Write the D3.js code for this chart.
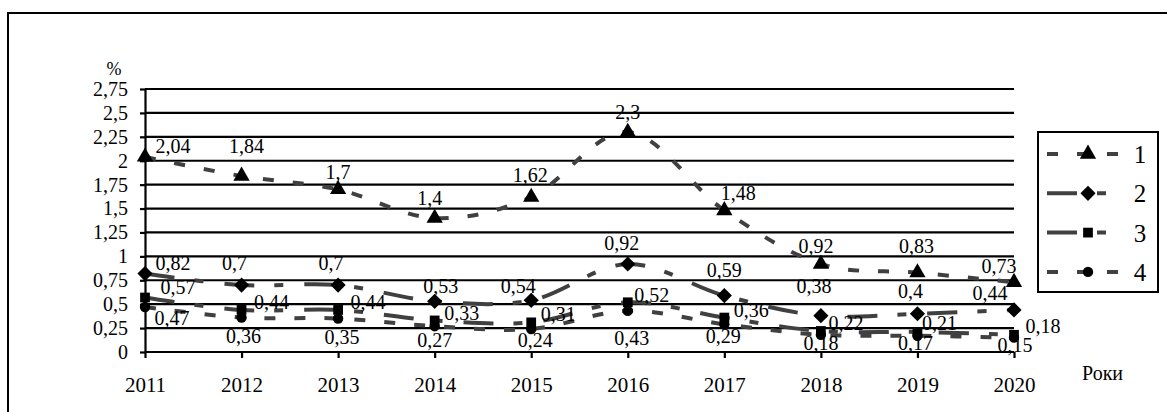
<!DOCTYPE html>
<html>
<head>
<meta charset="utf-8">
<script src="https://cdn.jsdelivr.net/npm/d3@7"></script>
<style>
  html, body { margin: 0; padding: 0; background: #fff; overflow: hidden; }
  svg { display: block; }
  text { font-family: "Liberation Serif", "Times New Roman", serif; fill: #000; }
</style>
</head>
<body>
<svg class="chart"></svg>
<script>
const svgWidth = 1167;
const svgHeight = 412;

// data
const years = [2011, 2012, 2013, 2014, 2015, 2016, 2017, 2018, 2019, 2020];
const series1 = [2.04, 1.84, 1.7, 1.4, 1.62, 2.3, 1.48, 0.92, 0.83, 0.73];
const series2 = [0.82, 0.7, 0.7, 0.53, 0.54, 0.92, 0.59, 0.38, 0.4, 0.44];
const series3 = [0.57, 0.44, 0.44, 0.33, 0.31, 0.52, 0.36, 0.22, 0.21, 0.18];
const series4 = [0.47, 0.36, 0.35, 0.27, 0.24, 0.43, 0.29, 0.18, 0.17, 0.15];
const seriesNames = ["1", "2", "3", "4"];
const yTicks = [0, 0.25, 0.5, 0.75, 1, 1.25, 1.5, 1.75, 2, 2.25, 2.5, 2.75];
const yUnit = "%";
const xUnit = "Роки";

// label nudges (px) from each marker: [dx, dy of baseline]
const labelShift1 = [[28,-4],[5,-23],[0,-10],[-5,-13],[-1,-15],[0,-13],[14,-10],[-5,-11],[-1,-20],[-15,-9]];
const labelShift2 = [[28,-4],[-7,-15],[-7,-15],[6,-8],[-13,-7],[-6,-14],[0,-19],[-7,-23],[-7,-16],[-24,-10]];
const labelShift3 = [[33,-3],[30,-1],[30,-1],[27,0],[27,-1],[24,0],[27,-1],[25,-1],[22,-2],[29,-2]];
const labelShift4 = [[27,18],[2,25],[4,25],[0,21],[4,18],[4,34],[-1,19],[0,15],[-2,14],[1,14]];

const margin = { top: 89, left: 145, right: 153, bottom: 60 };
const innerWidth = svgWidth - margin.left - margin.right;   // 869
const innerHeight = svgHeight - margin.top - margin.bottom; // 263

const svg = d3.select('.chart')
  .attr('width', svgWidth)
  .attr('height', svgHeight);

svg.append('rect')
  .attr('width', svgWidth).attr('height', svgHeight).attr('fill', '#fff');

// outer frame (right and bottom sides fall outside the picture)
svg.append('path')
  .attr('d', 'M8,420 L8,13 L1175,13')
  .attr('fill', 'none')
  .attr('stroke', '#000')
  .attr('stroke-width', 2);

const g = svg.append('g')
  .attr('transform', `translate(${margin.left},${margin.top})`);

const x = d3.scalePoint().domain(years).range([0, innerWidth]);
const y = d3.scaleLinear().domain([0, 2.75]).range([innerHeight, 0]);

const ua = d3.formatLocale({ decimal: ",", thousands: " ", grouping: [3], currency: ["", ""] });
const fmt = ua.format("~g");

// gridlines
g.selectAll('.grid')
  .data(yTicks)
  .join('line')
    .attr('x1', 0).attr('x2', innerWidth)
    .attr('y1', d => y(d)).attr('y2', d => y(d))
    .attr('stroke', '#000')
    .attr('stroke-width', 2.2);

// Y axis
const yAxis = g.append('g')
  .call(d3.axisLeft(y).tickValues(yTicks).tickFormat(fmt).tickSizeInner(5).tickSizeOuter(0).tickPadding(12));
yAxis.selectAll('path, line').attr('stroke', '#000').attr('stroke-width', 2.2);
yAxis.selectAll('text').style('font-size', '20px').style('font-family', '"Liberation Serif", serif');

// X axis
const xAxis = g.append('g')
  .attr('transform', `translate(0,${innerHeight})`)
  .call(d3.axisBottom(x).tickSizeInner(6).tickSizeOuter(0).tickPadding(19));
xAxis.select('.domain').remove();
xAxis.selectAll('line').attr('stroke', '#000').attr('stroke-width', 2.2);
xAxis.selectAll('text').style('font-size', '21px').style('font-family', '"Liberation Serif", serif');

g.append('text')
  .text(yUnit)
  .attr('x', -31).attr('y', -14)
  .attr('text-anchor', 'middle')
  .style('font-size', '18px');

g.append('text')
  .text(xUnit)
  .attr('x', innerWidth + 68).attr('y', innerHeight + 28)
  .style('font-size', '20px');

// series setup
const lineColour = '#404040';
const dashShort = '11,19';
const dashLong = '30,20,9,21';

const allSeries = [
  { name: seriesNames[0], values: series1, dash: dashShort, marker: d3.symbolTriangle, size: 115, rot: 0, shift: labelShift1 },
  { name: seriesNames[1], values: series2, dash: dashLong, marker: d3.symbolSquare, size: 115, rot: 45, shift: labelShift2 },
  { name: seriesNames[2], values: series3, dash: dashLong, marker: d3.symbolSquare, size: 95, rot: 0, shift: labelShift3 },
  { name: seriesNames[3], values: series4, dash: dashShort, marker: d3.symbolCircle, size: 85, rot: 0, shift: labelShift4 }
];

const line = d3.line()
  .x((d, i) => x(years[i]))
  .y(d => y(d))
  .curve(d3.curveCardinal.tension(0));

allSeries.forEach(function(s) {
  g.append('path')
    .datum(s.values)
    .attr('fill', 'none')
    .attr('stroke', lineColour)
    .attr('stroke-width', 4)
    .attr('stroke-dasharray', s.dash)
    .attr('d', line);

  g.selectAll(null)
    .data(s.values)
    .join('path')
      .attr('transform', (d, i) => `translate(${x(years[i])},${y(d)}) rotate(${s.rot})`)
      .attr('d', d3.symbol().type(s.marker).size(s.size))
      .attr('fill', '#000');
});

// data labels
allSeries.forEach(function(s) {
  g.selectAll(null)
    .data(s.values)
    .join('text')
      .text(d => fmt(d))
      .attr('x', (d, i) => x(years[i]) + s.shift[i][0])
      .attr('y', (d, i) => y(d) + s.shift[i][1])
      .attr('text-anchor', 'middle')
      .style('font-size', '20px');
});

// legend
const legend = svg.append('g').attr('transform', 'translate(1038,132)');
legend.append('rect')
  .attr('width', 120).attr('height', 160)
  .attr('fill', '#fff')
  .attr('stroke', '#000')
  .attr('stroke-width', 2);

allSeries.forEach(function(s, i) {
  const row = legend.append('g').attr('transform', `translate(0,${22 + i * 39.3})`);
  row.append('line')
    .attr('x1', 9).attr('x2', 81)
    .attr('stroke', lineColour)
    .attr('stroke-width', 4)
    .attr('stroke-dasharray', s.dash);
  row.append('path')
    .attr('transform', `translate(50,0) rotate(${s.rot})`)
    .attr('d', d3.symbol().type(s.marker).size(s.size))
    .attr('fill', '#000');
  row.append('text')
    .text(s.name)
    .attr('x', 102).attr('y', 9)
    .attr('text-anchor', 'middle')
    .style('font-size', '25px');
});
</script>
</body>
</html>
